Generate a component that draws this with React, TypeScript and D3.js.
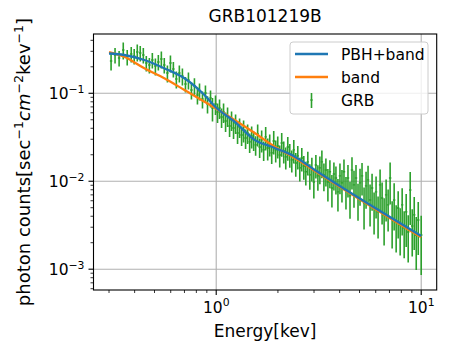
import React from "react";
import * as d3 from "d3";

// GRB spectrum points (energy in keV, photon counts, fractional error)
const energy = [
  0.307, 0.321, 0.336, 0.352, 0.368, 0.385, 0.398, 0.412, 0.426, 0.441,
  0.456, 0.472, 0.488, 0.505, 0.522, 0.54, 0.558, 0.578, 0.598, 0.618,
  0.639, 0.661, 0.684, 0.708, 0.732, 0.757, 0.783, 0.81, 0.829, 0.857,
  0.886, 0.907, 0.938, 0.959,
  0.992, 1.015, 1.038, 1.062, 1.086, 1.111, 1.136, 1.162, 1.188, 1.215,
  1.243, 1.271, 1.3, 1.33, 1.36, 1.391, 1.423, 1.456, 1.489, 1.523,
  1.557, 1.593, 1.629, 1.666, 1.704, 1.743, 1.783, 1.824, 1.865, 1.908,
  1.951, 1.996, 2.041, 2.087, 2.135, 2.184, 2.234, 2.285, 2.337, 2.39,
  2.444, 2.5, 2.557, 2.615, 2.675, 2.736, 2.798, 2.862, 2.928, 2.994,
  3.063, 3.133,
  3.204, 3.277, 3.352, 3.428, 3.506, 3.586, 3.668, 3.751, 3.837, 3.925,
  4.014, 4.106, 4.2, 4.295, 4.393, 4.494, 4.595, 4.7, 4.807, 4.917,
  5.029, 5.144, 5.262, 5.382, 5.504, 5.63, 5.758, 5.89, 6.023, 6.16,
  6.301, 6.445, 6.592, 6.742, 6.896, 7.053, 7.214, 7.379, 7.547, 7.72,
  7.894, 8.074, 8.258, 8.447, 8.64, 8.837, 9.039, 9.245, 9.456, 9.672,
  10.0,
];
const counts = [
  0.2328, 0.2724, 0.2518, 0.3105, 0.2585, 0.2797, 0.2653, 0.2945, 0.2871, 0.2724,
  0.2209, 0.2097, 0.2389, 0.2043, 0.2268, 0.2453, 0.2097, 0.1701, 0.2209, 0.1889,
  0.1453, 0.1701, 0.1573, 0.1276, 0.1416, 0.109, 0.1211, 0.0956, 0.1062, 0.0861,
  0.1008, 0.0756, 0.0884, 0.0681,
  0.0756, 0.0613, 0.0681, 0.0538, 0.0613, 0.0484, 0.0552, 0.0425, 0.0497, 0.0403,
  0.046, 0.0354, 0.0414, 0.0336, 0.0383, 0.031, 0.0354, 0.028, 0.0327, 0.0295,
  0.0259, 0.0345, 0.0245, 0.0295, 0.0227, 0.0319, 0.0239, 0.0265, 0.021, 0.0287,
  0.0227, 0.0252, 0.0199, 0.0272, 0.0221, 0.0189, 0.0245, 0.0204, 0.0175, 0.0227,
  0.0161, 0.0194, 0.0142, 0.0184, 0.0149, 0.0128, 0.0166, 0.0118, 0.0142, 0.00982,
  0.0153, 0.0115,
  0.0142, 0.0166, 0.0118, 0.0134, 0.00982, 0.0128, 0.00839, 0.0121, 0.0109, 0.00756,
  0.0115, 0.00957, 0.0128, 0.00796, 0.0109, 0.00681, 0.0134, 0.00908, 0.0109, 0.00646,
  0.00957, 0.0115, 0.00567, 0.00885, 0.01035, 0.00613, 0.00839, 0.00497, 0.00756, 0.00448,
  0.00908, 0.00646, 0.00414, 0.00699, 0.00538, 0.0109, 0.00383, 0.00613, 0.00345, 0.00497,
  0.00319, 0.00538, 0.00295, 0.00448, 0.00265, 0.00796, 0.0031, 0.00414, 0.00245, 0.00363,
  0.00245,
];
const relErr = [
  0.22, 0.2, 0.2, 0.22, 0.2, 0.2, 0.2, 0.22, 0.2, 0.2,
  0.2, 0.2, 0.2, 0.22, 0.2, 0.22, 0.2, 0.22, 0.22, 0.2,
  0.22, 0.22, 0.22, 0.2, 0.22, 0.22, 0.22, 0.22, 0.22, 0.22,
  0.22, 0.22, 0.22, 0.3,
  0.25, 0.25, 0.25, 0.25, 0.25, 0.25, 0.25, 0.25, 0.25, 0.25,
  0.25, 0.25, 0.25, 0.25, 0.28, 0.25, 0.25, 0.25, 0.28, 0.25,
  0.25, 0.28, 0.25, 0.28, 0.25, 0.3, 0.28, 0.28, 0.25, 0.3,
  0.28, 0.28, 0.28, 0.3, 0.28, 0.28, 0.3, 0.3, 0.28, 0.3,
  0.3, 0.3, 0.3, 0.3, 0.3, 0.3, 0.3, 0.32, 0.3, 0.35,
  0.3, 0.32,
  0.35, 0.35, 0.35, 0.35, 0.4, 0.35, 0.4, 0.35, 0.35, 0.4,
  0.38, 0.4, 0.38, 0.4, 0.4, 0.45, 0.4, 0.45, 0.4, 0.45,
  0.45, 0.4, 0.5, 0.45, 0.45, 0.5, 0.45, 0.5, 0.5, 0.5,
  0.5, 0.5, 0.55, 0.5, 0.5, 0.5, 0.55, 0.55, 0.55, 0.55,
  0.55, 0.55, 0.55, 0.6, 0.55, 0.6, 0.55, 0.6, 0.6, 0.6,
  0.65,
];

// fitted models
const pbhEnergy = [0.3, 0.356, 0.446, 0.558, 0.7, 0.876, 0.992, 1.229, 1.54, 1.93, 2.417, 3.029, 10];
const pbhCounts = [0.2833, 0.2724, 0.2389, 0.1923, 0.1481, 0.0956, 0.0699, 0.04755, 0.0295, 0.0239, 0.01904, 0.0134, 0.00239];
const bandEnergy = [0.3, 0.356, 0.446, 0.558, 0.7, 0.876, 1.229, 1.54, 1.93, 2.417, 3.029, 10];
const bandCounts = [0.2945, 0.2605, 0.1923, 0.1481, 0.109, 0.0802, 0.0497, 0.0354, 0.0247, 0.0184, 0.0131, 0.0023];

const xLim = [0.252, 11.9];
const yLim = [5.8e-4, 0.472];
const xMajor = [1, 10];
const yMajor = [1e-3, 1e-2, 1e-1];

const W = 449;
const H = 354;
const m = { left: 93.5, right: 436.7, top: 34, bottom: 290 };
const FONT = "DejaVu Sans, sans-serif";

const blue = "#1f77b4";
const orange = "#ff7f0e";
const green = "#2ca02c";

const minorTicks = (lo: number, hi: number) => {
  const out: number[] = [];
  for (let p = Math.floor(Math.log10(lo)); p <= Math.ceil(Math.log10(hi)); p++) {
    for (let k = 2; k <= 9; k++) {
      const v = k * Math.pow(10, p);
      if (v >= lo && v <= hi) out.push(v);
    }
  }
  return out;
};

const Pow = ({ exp, size }: { exp: number; size: number }) => (
  <>
    <tspan>10</tspan>
    <tspan dy={-size * 0.42} fontSize={size * 0.7}>
      {exp < 0 ? "\u2212" + Math.abs(exp) : String(exp)}
    </tspan>
  </>
);

export default function App() {
  const x = d3.scaleLog().domain(xLim).range([m.left, m.right]);
  const y = d3.scaleLog().domain(yLim).range([m.bottom, m.top]);

  const line = d3
    .line<[number, number]>()
    .x((d) => x(d[0]))
    .y((d) => y(d[1]))
    .curve(d3.curveMonotoneX);

  const pbh = line(pbhEnergy.map((e, i) => [e, pbhCounts[i]]) as [number, number][]);
  const band = line(bandEnergy.map((e, i) => [e, bandCounts[i]]) as [number, number][]);

  const tickFs = 15.5;
  const labelFs = 17;
  const yLabelFs = 18;

  return (
    <svg width={W} height={H} style={{ display: "block", position: "absolute", left: 0, top: 0 }} fontFamily={FONT}>
      <rect width={W} height={H} fill="#fff" />
      <defs>
        <clipPath id="plot">
          <rect x={m.left} y={m.top} width={m.right - m.left} height={m.bottom - m.top} />
        </clipPath>
      </defs>

      {/* grid */}
      {xMajor.map((v) => (
        <line key={"gx" + v} x1={x(v)} x2={x(v)} y1={m.top} y2={m.bottom} stroke="#b0b0b0" strokeWidth={1.1} />
      ))}
      {yMajor.map((v) => (
        <line key={"gy" + v} x1={m.left} x2={m.right} y1={y(v)} y2={y(v)} stroke="#b0b0b0" strokeWidth={1.1} />
      ))}

      <g clipPath="url(#plot)">
        {/* error bars */}
        {energy.map((e, i) => {
          const f = counts[i];
          const r = relErr[i];
          const cx = x(e);
          return (
            <g key={"eb" + i}>
              <line x1={cx} x2={cx} y1={y(f * (1 + r))} y2={y(f * (1 - r))} stroke={green} strokeWidth={1.6} />
              <line x1={cx - 1.2} x2={cx + 1.2} y1={y(f)} y2={y(f)} stroke={green} strokeWidth={1.4} />
            </g>
          );
        })}
        <path d={band || ""} fill="none" stroke={orange} strokeWidth={2.3} />
        <path d={pbh || ""} fill="none" stroke={blue} strokeWidth={2.3} />
      </g>

      {/* spines */}
      <rect x={m.left} y={m.top} width={m.right - m.left} height={m.bottom - m.top} fill="none" stroke="#000" strokeWidth={1.1} />

      {/* x ticks */}
      {xMajor.map((v) => (
        <g key={"xt" + v}>
          <line x1={x(v)} x2={x(v)} y1={m.bottom} y2={m.bottom + 5} stroke="#000" strokeWidth={1.1} />
          <text x={x(v)} y={313} textAnchor="middle" fontSize={tickFs}>
            <Pow exp={Math.round(Math.log10(v))} size={tickFs} />
          </text>
        </g>
      ))}
      {minorTicks(xLim[0], xLim[1]).map((v) => (
        <line key={"xm" + v} x1={x(v)} x2={x(v)} y1={m.bottom} y2={m.bottom + 3} stroke="#000" strokeWidth={0.8} />
      ))}

      {/* y ticks */}
      {yMajor.map((v) => (
        <g key={"yt" + v}>
          <line x1={m.left - 5} x2={m.left} y1={y(v)} y2={y(v)} stroke="#000" strokeWidth={1.1} />
          <text x={m.left - 9} y={y(v) + 6} textAnchor="end" fontSize={tickFs}>
            <Pow exp={Math.round(Math.log10(v))} size={tickFs} />
          </text>
        </g>
      ))}
      {minorTicks(yLim[0], yLim[1]).map((v) => (
        <line key={"ym" + v} x1={m.left - 3} x2={m.left} y1={y(v)} y2={y(v)} stroke="#000" strokeWidth={0.8} />
      ))}

      {/* labels */}
      <text x={(m.left + m.right) / 2} y={22} textAnchor="middle" fontSize={labelFs}>
        GRB101219B
      </text>
      <text x={(m.left + m.right) / 2} y={337} textAnchor="middle" fontSize={labelFs}>
        Energy[kev]
      </text>
      <text transform={`translate(30,${(m.top + m.bottom) / 2}) rotate(-90)`} textAnchor="middle" fontSize={yLabelFs}>
        photon counts[sec
        <tspan dy={-7.5} fontSize={yLabelFs * 0.7}>{"\u22121"}</tspan>
        <tspan dy={7.5} fontStyle="italic">cm</tspan>
        <tspan dy={-7.5} fontSize={yLabelFs * 0.7}>{"\u22122"}</tspan>
        <tspan dy={7.5}>kev</tspan>
        <tspan dy={-7.5} fontSize={yLabelFs * 0.7}>{"\u22121"}</tspan>
        <tspan dy={7.5}>]</tspan>
      </text>

      {/* legend */}
      <g>
        <rect x={290} y={42} width={138} height={72} rx={3} fill="#fff" fillOpacity={0.8} stroke="#cccccc" strokeWidth={1} />
        <line x1={295} x2={328} y1={54} y2={54} stroke={blue} strokeWidth={2.3} />
        <text x={341} y={59.5} fontSize={15.5}>PBH+band</text>
        <line x1={295} x2={328} y1={77} y2={77} stroke={orange} strokeWidth={2.3} />
        <text x={341} y={82.5} fontSize={15.5}>band</text>
        <line x1={311.5} x2={311.5} y1={93} y2={108} stroke={green} strokeWidth={1.6} />
        <line x1={310.3} x2={312.7} y1={100} y2={100} stroke={green} strokeWidth={1.4} />
        <text x={341} y={105.5} fontSize={15.5}>GRB</text>
      </g>
    </svg>
  );
}
